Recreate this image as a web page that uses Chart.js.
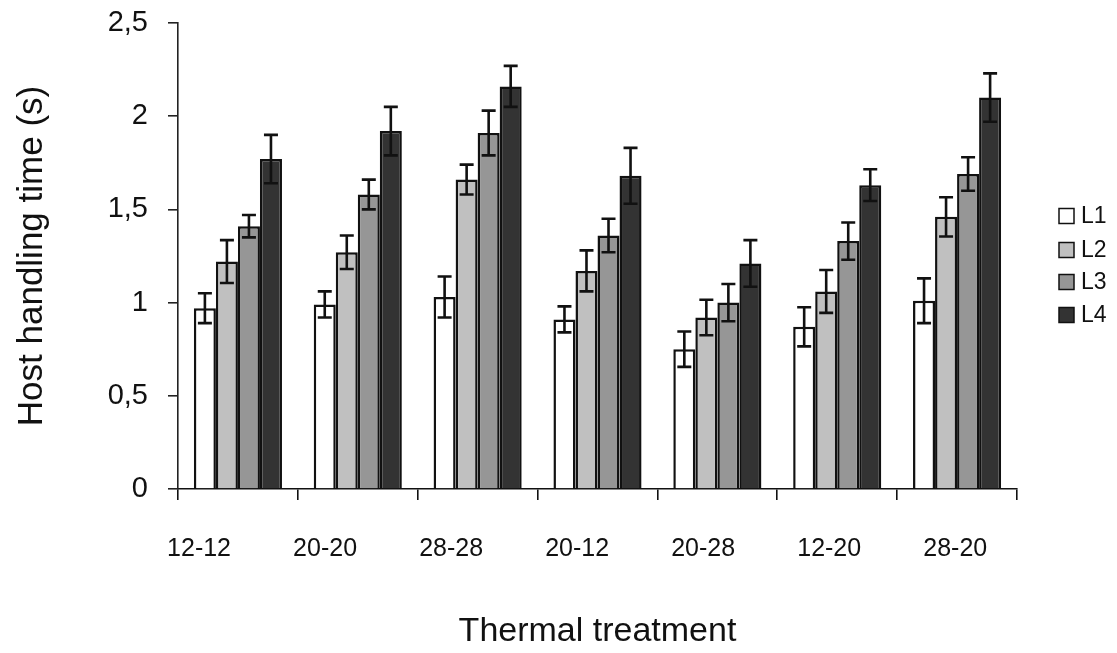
<!DOCTYPE html>
<html>
<head>
<meta charset="utf-8">
<script src="https://cdn.jsdelivr.net/npm/chart.js@4"></script>
<style>
  html, body { margin: 0; padding: 0; background: #fff; }
  #wrap { width: 1117px; height: 653px; }
</style>
</head>
<body>
<div id="wrap"><canvas id="handlingChart"></canvas></div>
<script>
// data
const categories = ['12-12', '20-20', '28-28', '20-12', '20-28', '12-20', '28-20'];
const seriesNames = ['L1', 'L2', 'L3', 'L4'];
const l1 = [0.97, 0.99, 1.03, 0.91, 0.75, 0.87, 1.01];
const l2 = [1.22, 1.27, 1.66, 1.17, 0.92, 1.06, 1.46];
const l3 = [1.41, 1.58, 1.91, 1.36, 1.00, 1.33, 1.69];
const l4 = [1.77, 1.92, 2.16, 1.68, 1.21, 1.63, 2.10];
const l1Err = [0.08, 0.07, 0.11, 0.07, 0.095, 0.105, 0.12];
const l2Err = [0.115, 0.09, 0.08, 0.11, 0.095, 0.115, 0.105];
const l3Err = [0.06, 0.08, 0.12, 0.09, 0.10, 0.10, 0.09];
const l4Err = [0.13, 0.13, 0.11, 0.15, 0.125, 0.085, 0.13];
const yTicks = [0, 0.5, 1, 1.5, 2, 2.5];

const fills = ['#ffffff', '#c0c0c0', '#969696', '#333333'];
const values = [l1, l2, l3, l4];
const errors = [l1Err, l2Err, l3Err, l4Err];

// error bars drawn on top of each bar
const errorBars = {
    id: 'errorBars',
    afterDatasetsDraw(chart) {
        const ctx = chart.ctx;
        const y = chart.scales.y;
        ctx.save();
        ctx.strokeStyle = '#111';
        ctx.lineWidth = 2.6;
        chart.data.datasets.forEach((ds, i) => {
            const meta = chart.getDatasetMeta(i);
            meta.data.forEach((bar, j) => {
                const v = ds.data[j], e = ds.errors[j];
                const top = y.getPixelForValue(v + e);
                const bot = y.getPixelForValue(v - e);
                const half = 7;
                ctx.beginPath();
                ctx.moveTo(bar.x, top); ctx.lineTo(bar.x, bot);
                ctx.moveTo(bar.x - half, top); ctx.lineTo(bar.x + half, top);
                ctx.moveTo(bar.x - half, bot); ctx.lineTo(bar.x + half, bot);
                ctx.stroke();
            });
        });
        ctx.restore();
    }
};

// legend to the right, small squares
const sideLegend = {
    id: 'sideLegend',
    afterDraw(chart) {
        const ctx = chart.ctx;
        const x = chart.chartArea.right + 42;
        const ys = [216, 250, 282, 315];
        ctx.save();
        ctx.font = '23px "Liberation Sans", Arial, sans-serif';
        ctx.textBaseline = 'middle';
        chart.data.datasets.forEach((ds, i) => {
            const cy = ys[i];
            ctx.fillStyle = ds.backgroundColor;
            ctx.fillRect(x, cy - 7.5, 15, 15);
            ctx.strokeStyle = '#111';
            ctx.lineWidth = 1.5;
            ctx.strokeRect(x, cy - 7.5, 15, 15);
            ctx.fillStyle = '#111';
            ctx.fillText(ds.label, x + 22, cy + 1);
        });
        ctx.restore();
    }
};

function loadChart() {
    const ctx = document.getElementById('handlingChart');
    if (!ctx) return;

    new Chart(ctx, {
        type: 'bar',
        data: {
            labels: categories,
            datasets: seriesNames.map((name, i) => ({
                label: name,
                data: values[i],
                errors: errors[i],
                xAxisID: 'x',
                backgroundColor: fills[i],
                borderColor: '#111',
                borderWidth: 2.5,
                categoryPercentage: 0.735,
                barPercentage: 1
            }))
        },
        options: {
            responsive: true,
            maintainAspectRatio: false,
            animation: false,
            layout: { padding: { left: 11, right: 100, top: 23, bottom: 0 } },
            plugins: {
                legend: { display: false },
                tooltip: { enabled: false }
            },
            scales: {
                x: {
                    type: 'category',
                    weight: 0,
                    border: { color: '#111', width: 1.6 },
                    grid: { offset: true, drawOnChartArea: false, tickLength: 11, color: '#111', lineWidth: 1.6 },
                    ticks: { display: false },
                    afterFit(scale) { scale.height = 11; }
                },
                x2: {
                    type: 'linear',
                    position: 'bottom',
                    weight: 1,
                    min: -0.167,
                    max: 6.49,
                    offset: false,
                    border: { display: false },
                    grid: { display: false, drawTicks: false },
                    ticks: {
                        stepSize: 1,
                        includeBounds: false,
                        autoSkip: false,
                        maxRotation: 0,
                        padding: 34,
                        color: '#111',
                        font: { family: '"Liberation Sans Narrow", "Liberation Sans", Arial, sans-serif', size: 25 },
                        callback: (v) => categories[v] !== undefined ? categories[v] : ''
                    },
                    title: {
                        display: true,
                        text: 'Thermal treatment',
                        color: '#111',
                        font: { family: '"Liberation Sans", Arial, sans-serif', size: 34 },
                        padding: { top: 0, bottom: 1 }
                    },
                    afterFit(scale) {
                        scale.height = 153;
                        scale.paddingLeft = 0;
                        scale.paddingRight = 0;
                    }
                },
                y: {
                    min: 0,
                    max: 2.5,
                    afterBuildTicks(scale) { scale.ticks = yTicks.map(v => ({ value: v })); },
                    border: { color: '#222', width: 1.6 },
                    grid: { drawOnChartArea: false, tickLength: 10, color: '#222', lineWidth: 1.6 },
                    ticks: {
                        padding: 20,
                        color: '#111',
                        font: { family: '"Liberation Sans", Arial, sans-serif', size: 29 },
                        callback: (v) => String(v).replace('.', ',')
                    },
                    title: {
                        display: true,
                        text: 'Host handling time (s)',
                        color: '#111',
                        font: { family: '"Liberation Sans", Arial, sans-serif', size: 35 },
                        padding: { top: 0, bottom: 0 }
                    },
                    afterFit(scale) {
                        scale.width = 167;
                        scale.paddingTop = 0;
                        scale.paddingBottom = 0;
                    }
                }
            }
        },
        plugins: [errorBars, sideLegend]
    });
}

document.addEventListener('DOMContentLoaded', function () {
    loadChart();
});
</script>
</body>
</html>
